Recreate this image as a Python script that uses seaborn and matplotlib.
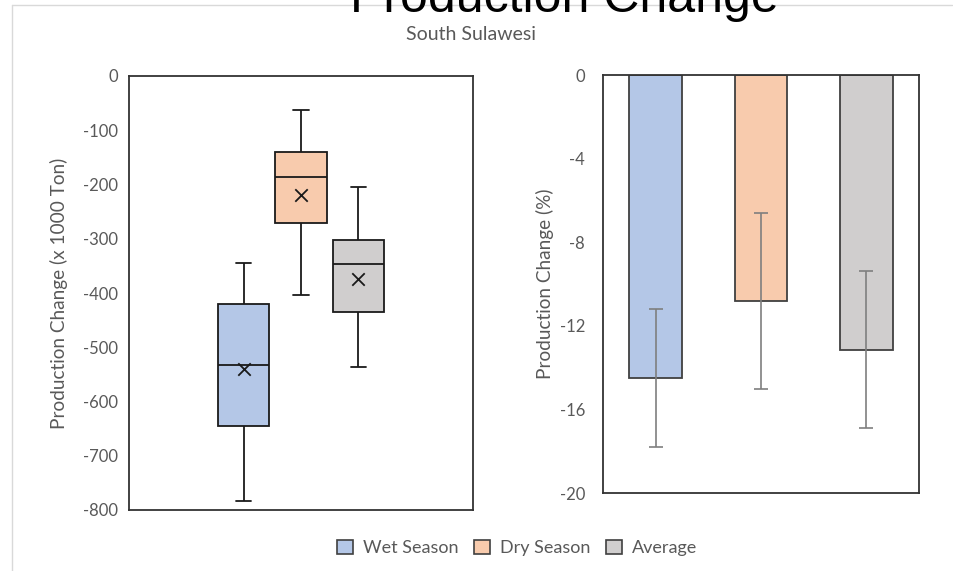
import numpy as np
import pandas as pd
import matplotlib
matplotlib.use("Agg")
import matplotlib.pyplot as plt
from matplotlib.patches import Patch
from matplotlib.lines import Line2D
import seaborn as sns

# data
seasons = ["Wet Season", "Dry Season", "Average"]
colors = ["#B4C7E7", "#F8CBAD", "#D0CECE"]

# five-number summaries (x 1000 Ton): min, q1, median, q3, max
wet_box = [-784, -645, -533, -420, -345]
dry_box = [-404, -271, -186, -140, -63]
avg_box = [-536, -435, -347, -302, -204]
box_means = [-540, -219, -374]

# percent change with error (+/-)
pct_change = [-14.5, -10.8, -13.15]
pct_err = [3.3, 4.2, 3.75]

sns.set_theme(style="white")
plt.rcParams["font.family"] = ["Lato", "DejaVu Sans"]
plt.rcParams["axes.unicode_minus"] = False
txt_gray = "#595959"

rows = []
for s, vals in zip(seasons, [wet_box, dry_box, avg_box]):
    for v in vals:
        rows.append({"region": "South Sulawesi", "season": s, "change": v})
df_box = pd.DataFrame(rows)
df_bar = pd.DataFrame({"season": seasons, "pct": pct_change})

fig = plt.figure(figsize=(9.54, 5.71), dpi=100)

# outer chart border (only top and left edges visible)
border = dict(transform=fig.transFigure, color="#D9D9D9", linewidth=1.0)
fig.lines.append(Line2D([12 / 954, 952 / 954], [1 - 5 / 571] * 2, **border))
fig.lines.append(Line2D([12 / 954] * 2, [0, 1 - 5 / 571], **border))

ax1 = fig.add_axes([129 / 954, 1 - 510 / 571, 344 / 954, 434 / 571])
ax2 = fig.add_axes([603 / 954, 1 - 493 / 571, 316 / 954, 418 / 571])

# left: box plot
box_w = 0.5
sns.boxplot(data=df_box, x="region", y="change", hue="season", palette=colors,
            saturation=1, whis=np.inf, width=box_w, gap=0.1,
            linecolor="#1a1a1a", linewidth=1.3, legend=False, ax=ax1)
# narrower whisker caps, like the reference
for cont in ax1.containers:
    for cap in getattr(cont, "caps", []):
        xd = np.asarray(cap.get_xdata(), dtype=float)
        c = xd.mean()
        cap.set_xdata([c - 0.022, c + 0.022])
offsets = (np.arange(len(seasons)) - 1) * box_w / len(seasons)
ax1.scatter(offsets, box_means, marker="x", s=80, color="#1a1a1a", linewidths=1.3, zorder=5)
ax1.set_xlim(-0.5, 0.5)
ax1.set_ylim(-800, 0)
ax1.set_yticks(np.arange(-800, 1, 100))
ax1.set_xticks([])
ax1.set_xlabel("")
ax1.set_ylabel("Production Change (x 1000 Ton)", color=txt_gray, fontsize=13.7)
ax1.yaxis.set_label_coords(-0.177, 0.5)
ax1.tick_params(axis="y", pad=8)

# right: bar chart with error bars
sns.barplot(data=df_bar, x="season", y="pct", hue="season", palette=colors,
            saturation=1, width=0.5, edgecolor="#404040", linewidth=1.3,
            errorbar=None, legend=False, ax=ax2)
ax2.errorbar(np.arange(len(seasons)), pct_change, yerr=pct_err, fmt="none",
             ecolor="#7F7F7F", elinewidth=1.2, capsize=5, capthick=1.2)
ax2.set_xlim(-0.5, 2.5)
ax2.set_ylim(-20, 0)
ax2.set_yticks(np.arange(-20, 1, 4))
ax2.set_xticks([])
ax2.set_xlabel("")
ax2.set_ylabel("Production Change (%)", color=txt_gray, fontsize=13.7)
ax2.yaxis.set_label_coords(-0.155, 0.5)
ax2.tick_params(axis="y", pad=13)

for ax in (ax1, ax2):
    ax.tick_params(axis="y", length=0, labelsize=12, labelcolor=txt_gray)
    for sp in ax.spines.values():
        sp.set_visible(True)
        sp.set_color("#333333")
        sp.set_linewidth(1.3)

# titles
fig.text(350 / 954, 1 - 12 / 571, "Production Change", fontsize=36,
         family=["Liberation Sans", "DejaVu Sans"], color="black",
         ha="left", va="baseline")
fig.text(471 / 954, 1 - 35 / 571, "South Sulawesi", fontsize=14,
         color=txt_gray, ha="center", va="center")

# legend
handles = [Patch(facecolor=c, edgecolor="#404040", linewidth=1.2, label=s)
           for s, c in zip(seasons, colors)]
fig.legend(handles=handles, loc="center", bbox_to_anchor=(517 / 954, 1 - 548 / 571),
           ncol=3, frameon=False, fontsize=13, labelcolor=txt_gray,
           handlelength=0.85, handleheight=0.85, handletextpad=0.55, columnspacing=0.9)

fig.savefig("out.png", dpi=100)
